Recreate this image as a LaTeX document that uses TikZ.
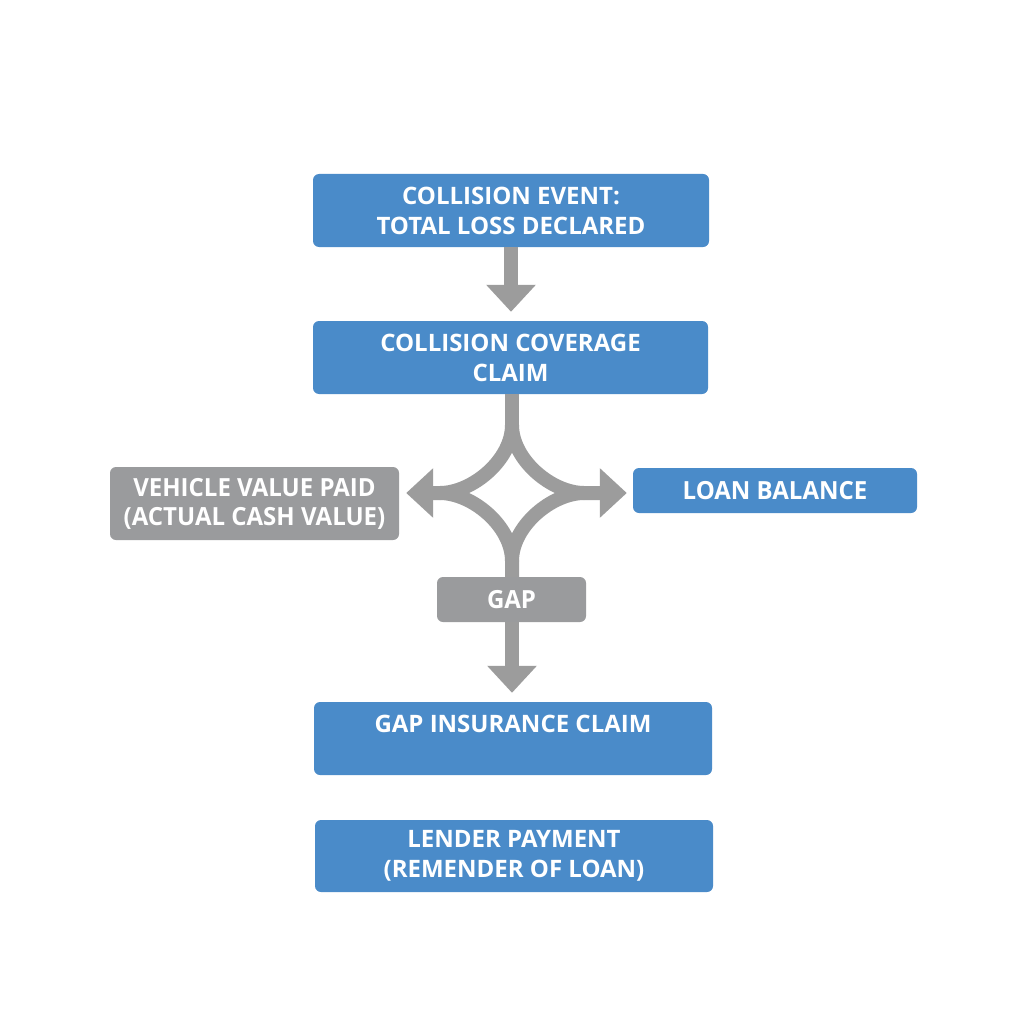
\documentclass[tikz,border=0pt]{standalone}
\usepackage{fontspec}
\setmainfont{Open Sans}
\usetikzlibrary{arrows.meta}
\definecolor{boxblue}{HTML}{4A8BC9}
\definecolor{boxgrey}{HTML}{9A9B9D}
\definecolor{pipegrey}{HTML}{9C9C9C}
\tikzset{
  bluebox/.style={fill=boxblue,rounded corners=6pt,text=white,align=center,inner sep=0pt,
    font=\fontsize{24}{30}\selectfont\bfseries},
  greybox/.style={fill=boxgrey,rounded corners=6pt,text=white,align=center,inner sep=0pt,
    font=\fontsize{25}{29}\selectfont\bfseries\addfontfeatures{FakeStretch=0.96}},
  condblue/.style={bluebox,font=\fontsize{25}{29}\selectfont\bfseries\addfontfeatures{FakeStretch=0.96}},
  pipe/.style={draw=pipegrey,line width=14pt},
  tip/.style={-{Triangle[width=48pt,length=27pt]}}
}
\begin{document}
\begin{tikzpicture}[x=1pt,y=-1pt]
\useasboundingbox[fill=white] (0,0) rectangle (1024,1024);
\node[bluebox,minimum width=396pt,minimum height=73pt] (ce) at (511,210.5) {COLLISION EVENT:\\TOTAL LOSS DECLARED};
\node[bluebox,minimum width=395pt,minimum height=73pt] (cc) at (510.5,357.5) {COLLISION COVERAGE\\CLAIM};
\node[greybox,minimum width=289pt,minimum height=73pt] (vv) at (254.5,503.5) {VEHICLE VALUE PAID\\(ACTUAL CASH VALUE)};
\node[condblue,minimum width=284pt,minimum height=45pt] (lb) at (775,490.5) {LOAN BALANCE};
\node[greybox,minimum width=149pt,minimum height=45pt] (gap) at (511.5,599.5) {GAP};
\node[bluebox,minimum width=398pt,minimum height=73pt] (gi) at (513,738.5) {GAP INSURANCE CLAIM\\\mbox{}};
\node[bluebox,minimum width=398pt,minimum height=72pt] (lp) at (514,856) {LENDER PAYMENT\\(REMENDER OF LOAN)};
\coordinate (jt) at (512,425);
\coordinate (jl) at (440,493);
\coordinate (jr) at (584,493);
\coordinate (jb) at (512,561);
\draw[pipe,tip,shorten >=9pt] (ce.south -| 511,0) -- (cc.north -| 511,0);
\draw[pipe] (cc.south -| jt) -- (jt);
\draw[pipe,tip,shorten >=7pt] (jt) .. controls (512,460) and (472,493) .. (jl) -- (vv.east |- jl);
\draw[pipe,tip,shorten >=6pt] (jt) .. controls (512,460) and (552,493) .. (jr) -- (lb.west |- jr);
\draw[pipe] (jl) .. controls (472,493) and (512,526) .. (jb) -- (gap.north -| jb);
\draw[pipe] (jr) .. controls (552,493) and (512,526) .. (jb);
\draw[pipe,tip,shorten >=9pt] (gap.south -| jb) -- (gi.north -| jb);
\end{tikzpicture}
\end{document}
